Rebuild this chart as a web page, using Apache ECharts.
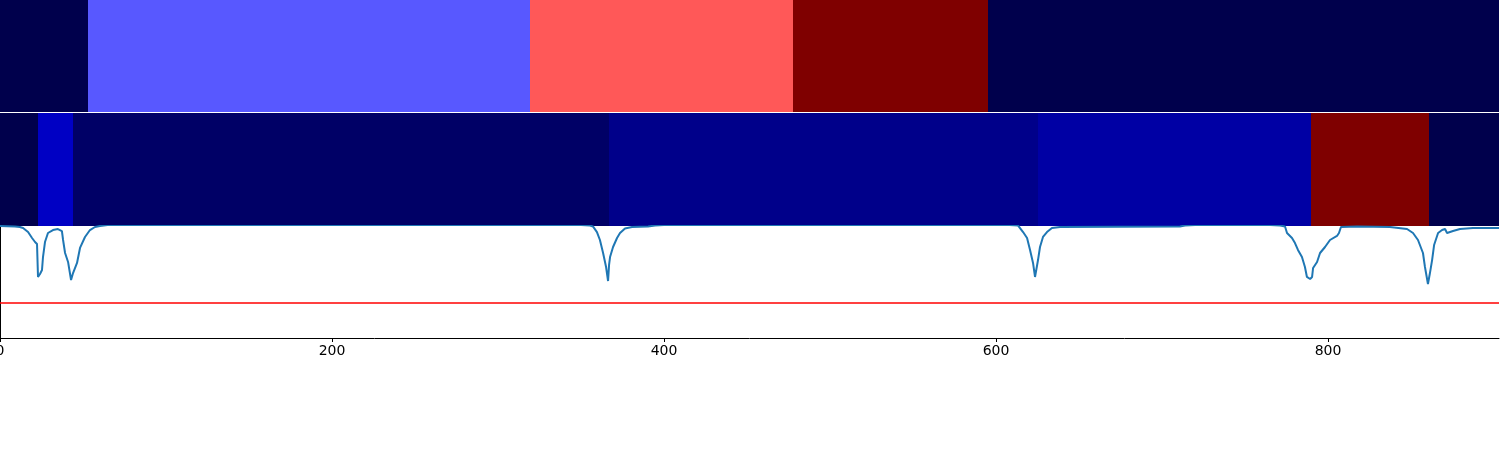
<!DOCTYPE html>
<html><head><meta charset="utf-8">
<script src="https://cdn.jsdelivr.net/npm/echarts@6/dist/echarts.min.js"></script>
<style>html,body{margin:0;padding:0;background:#fff}#c{width:1500px;height:450px}</style>
</head><body><div id="c"></div><script>
const xMax = 903;
// segment boundaries (frame index) and cluster labels
const topBounds = [0, 53, 319, 478, 595, 903];
const topLabels = [0, 5, 6, 7, 0];
const midBounds = [0, 23, 44, 367, 625, 790, 861, 903];
const midLabels = [0, 4, 1, 2, 3, 7, 0];
// similarity curve
const curveX = [0, 9, 12, 13.9, 16.9, 19.3, 21.1, 22.3, 22.9, 24.1, 25.3, 25.9, 27.1, 28.9, 31.9, 34.9, 37.3, 38, 39.2, 41, 42.8, 44, 46.4, 48.2, 51.2, 54.2, 57.2, 60.2, 66,
  350, 355.4, 357.2, 359.6, 361.4, 363.3, 365.1, 366.3, 366.9, 367.5, 369.3, 371.7, 373.5, 376.5, 380.7, 390.4, 394.6, 400,
  608, 613.3, 614.5, 616.3, 618.7, 620.5, 622.3, 623.5, 624.7, 625.3, 626.5, 628.3, 630.7, 633.7, 638.6, 710.8, 713.9, 720,
  765, 771.1, 774.1, 775.3, 778.3, 780.1, 781.9, 784.3, 786.1, 787.3, 789.2, 790.4, 791, 793.4, 795.2, 798.2, 801.2, 805.4, 806.6, 807.8, 817.5,
  837.3, 847.6, 851.2, 854.2, 857.2, 858.4, 860.2, 861.4, 862.7, 863.9, 866.3, 868.7, 870.5, 871.7, 875.3, 879.5, 887.3, 903];
const curveY = [1.0, 0.996, 0.991, 0.982, 0.946, 0.893, 0.857, 0.839, 0.545, 0.571, 0.607, 0.723, 0.857, 0.9375, 0.964, 0.973, 0.955, 0.875, 0.759, 0.679, 0.518, 0.58, 0.67, 0.804, 0.902, 0.964, 0.991, 1.0, 1.01,
  1.01, 1.004, 0.996, 0.946, 0.875, 0.759, 0.634, 0.509, 0.652, 0.723, 0.8125, 0.893, 0.9375, 0.978, 0.991, 0.996, 1.004, 1.01,
  1.01, 1.004, 0.996, 0.946, 0.893, 0.786, 0.67, 0.545, 0.5625, 0.696, 0.8125, 0.902, 0.946, 0.982, 0.991, 0.996, 1.004, 1.01,
  1.01, 1.004, 0.996, 0.9375, 0.893, 0.848, 0.786, 0.723, 0.634, 0.545, 0.527, 0.545, 0.625, 0.679, 0.759, 0.8125, 0.875, 0.911, 0.9375, 0.991, 0.996,
  0.991, 0.973, 0.9375, 0.875, 0.759, 0.634, 0.482, 0.58, 0.696, 0.83, 0.9375, 0.964, 0.973, 0.9375, 0.955, 0.973, 0.982, 0.982];
const threshold = 0.3125;

const palette = {0:'#00004c',1:'#000066',2:'#00008a',3:'#0000a4',4:'#0000c4',5:'#5858ff',6:'#ff5858',7:'#7f0000'};
function segs(bounds, labels){ return labels.map((l,i)=>[bounds[i], bounds[i+1], l]); }
function renderSeg(params, api){
  const s = api.coord([api.value(0), 1]);
  const e = api.coord([api.value(1), 0]);
  const x0 = Math.round(s[0]), x1 = Math.round(e[0]);
  return {type:'rect', shape:{x:x0, y:s[1], width:x1-x0, height:e[1]-s[1]}, style:{fill: palette[api.value(2)]}};
}
const chart = echarts.init(document.getElementById('c'), null, {renderer:'canvas'});
const hidden = {show:false};
chart.setOption({
  animation:false,
  grid:[
    {left:0, top:0, width:1499, height:112, outerBoundsMode:'none', containLabel:false},
    {left:0, top:113, width:1499, height:113, outerBoundsMode:'none', containLabel:false},
    {left:0, top:226, width:1499, height:112, outerBoundsMode:'none', containLabel:false}
  ],
  xAxis:[
    {type:'value', gridIndex:0, min:0, max:xMax, show:false},
    {type:'value', gridIndex:1, min:0, max:xMax, show:false},
    {type:'value', gridIndex:2, min:0, max:xMax, interval:200,
      axisLine:{lineStyle:{color:'#000', width:1}}, splitLine:hidden,
      axisTick:{length:4, lineStyle:{color:'#000'}},
      axisLabel:{color:'#000', fontSize:14, fontFamily:'DejaVu Sans', margin:6, showMaxLabel:false, hideOverlap:false}}
  ],
  yAxis:[
    {type:'value', gridIndex:0, min:0, max:1, show:false},
    {type:'value', gridIndex:1, min:0, max:1, show:false},
    {type:'value', gridIndex:2, min:0, max:1, axisLine:{show:true, lineStyle:{color:'#000'}}, axisTick:hidden, axisLabel:hidden, splitLine:hidden}
  ],
  series:[
    {type:'custom', xAxisIndex:0, yAxisIndex:0, renderItem:renderSeg, encode:{x:[0,1]}, data:segs(topBounds, topLabels), silent:true},
    {type:'custom', xAxisIndex:1, yAxisIndex:1, renderItem:renderSeg, encode:{x:[0,1]}, data:segs(midBounds, midLabels), silent:true},
    {type:'line', xAxisIndex:2, yAxisIndex:2, data:curveX.map((x,i)=>[x, curveY[i]]), showSymbol:false, clip:true,
      lineStyle:{color:'#1f77b4', width:2}, z:3},
    {type:'line', xAxisIndex:2, yAxisIndex:2, data:[[0, threshold],[xMax, threshold]], showSymbol:false,
      lineStyle:{color:'#ff0000', width:1.6}, z:2}
  ]
});
</script></body></html>
